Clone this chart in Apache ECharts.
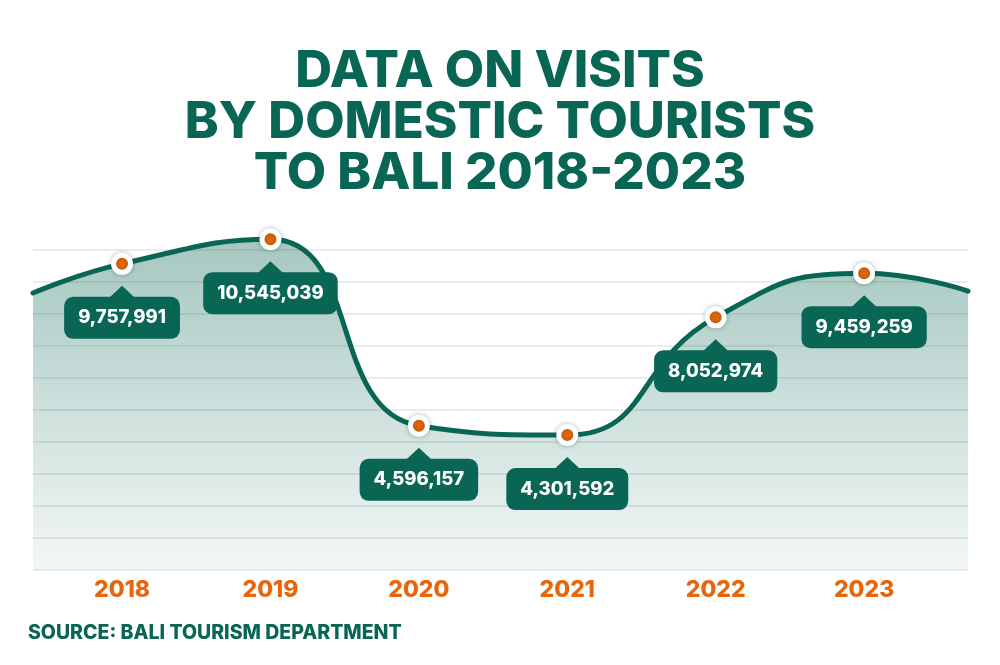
<!DOCTYPE html>
<html>
<head>
<meta charset="utf-8">
<script src="https://cdn.jsdelivr.net/npm/echarts@6/dist/echarts.min.js"></script>
<style>
html,body{margin:0;padding:0;background:#fff;}
#chart{width:1000px;height:665px;}
</style>
</head>
<body>
<div id="chart"></div>
<script>
// ---- data ----
const years = [2018, 2019, 2020, 2021, 2022, 2023];
const visits = [9757991, 10545039, 4596157, 4301592, 8052974, 9459259];
// the curve runs a little past the first and last year at the chart edges
const leftEdge = [2017.4, 8830000];
const rightEdge = [2023.7, 8890000];
const titleText = 'DATA ON VISITS\nBY DOMESTIC TOURISTS\nTO BALI 2018-2023';
const sourceText = 'SOURCE: BALI TOURISM DEPARTMENT';

const GREEN = '#0a6654';
const ORANGE = '#e8650a';

const points = years.map((y, i) => [y, visits[i]]);
const curve = [leftEdge].concat(points, [rightEdge]);

const chart = echarts.init(document.getElementById('chart'), null, {renderer: 'canvas'});
chart.setOption({
  animation: false,
  backgroundColor: '#fff',
  title: {
    text: titleText,
    left: 'center',
    top: 41,
    textStyle: {
      fontFamily: 'Inter',
      fontWeight: 800,
      fontSize: 51,
      lineHeight: 51,
      color: GREEN
    }
  },
  graphic: [{
    type: 'text',
    left: 28,
    top: 623,
    style: {
      text: sourceText,
      fontFamily: 'Inter',
      fontWeight: 800,
      fontSize: 19.5,
      fill: GREEN
    }
  }],
  grid: {left: 33, right: 32, top: 250, bottom: 95},
  xAxis: {
    type: 'value',
    min: leftEdge[0],
    max: rightEdge[0],
    splitLine: {show: false},
    axisLine: {show: false},
    axisTick: {show: false},
    axisLabel: {
      customValues: years,
      margin: 9,
      fontFamily: 'Inter',
      fontWeight: 800,
      fontSize: 23,
      color: ORANGE,
      formatter: v => String(v)
    }
  },
  yAxis: {
    type: 'value',
    min: 0,
    max: 10200000,
    interval: 1020000,
    z: 2,
    axisLine: {show: false},
    axisTick: {show: false},
    axisLabel: {show: false},
    splitLine: {lineStyle: {color: 'rgba(0,40,30,0.11)', width: 1.5}}
  },
  series: [
    {
      type: 'line',
      z: 1,
      clip: false,
      data: curve,
      smooth: 0.5,
      symbol: 'none',
      lineStyle: {width: 0},
      areaStyle: {
        color: new echarts.graphic.LinearGradient(0, 0, 0, 1, [
          {offset: 0, color: 'rgba(10,102,84,0.52)'},
          {offset: 1, color: 'rgba(10,102,84,0.07)'}
        ])
      }
    },
    {
      type: 'line',
      z: 3,
      clip: false,
      data: curve,
      smooth: 0.5,
      symbol: 'none',
      lineStyle: {width: 5, color: GREEN, cap: 'round'}
    },
    {
      type: 'scatter',
      z: 4,
      clip: false,
      data: points,
      symbol: 'triangle',
      symbolSize: [30, 14],
      symbolOffset: [0, 29],
      itemStyle: {color: GREEN, opacity: 1}
    },
    {
      type: 'scatter',
      z: 5,
      clip: false,
      data: points,
      symbol: 'circle',
      symbolSize: 17,
      itemStyle: {
        color: ORANGE,
        opacity: 1,
        borderColor: '#fff',
        borderWidth: 5,
        shadowBlur: 5,
        shadowColor: 'rgba(0,60,50,0.3)'
      },
      label: {
        show: true,
        position: 'bottom',
        distance: 22,
        formatter: p => p.value[1].toLocaleString('en-US'),
        fontFamily: 'Inter',
        fontWeight: 800,
        fontSize: 18.5,
        lineHeight: 22,
        color: '#fff',
        backgroundColor: GREEN,
        borderRadius: 9,
        padding: [10, 14]
      }
    }
  ]
});
</script>
</body>
</html>
